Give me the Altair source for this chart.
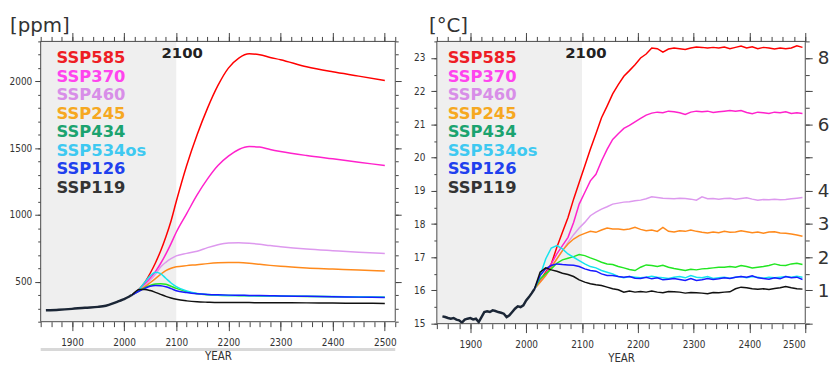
import altair as alt
import pandas as pd

# ---------------- data ----------------
SCENARIOS = ["SSP585", "SSP370", "SSP460", "SSP245", "SSP434", "SSP534os", "SSP126", "SSP119"]
LINE_COLORS = ["#ff0000", "#ff22cc", "#dd99ee", "#ff8a1c", "#22e622", "#14e4ee", "#1a1aff", "#111111"]
LABEL_COLORS = ["#ee1d25", "#ff44ee", "#d88ee8", "#f6a821", "#1ba36f", "#3ec9f1", "#2040ee", "#333333"]
HIST_COLOR = "#1b2636"

# CO2 concentration [ppm]
CO2_HIST_YEARS = [1850, 1875, 1900, 1925, 1950, 1965, 1980, 1990, 2000, 2010, 2015]
CO2_HIST = [285, 289, 296, 305, 311, 320, 339, 354, 369, 389, 400]

CO2_YEARS = [2015, 2030, 2040, 2050, 2060, 2070, 2080, 2090, 2100, 2120, 2140, 2160,
             2180, 2200, 2220, 2240, 2260, 2280, 2300, 2350, 2400, 2450, 2500]
CO2_SSP585 = [400, 449, 497, 563, 640, 730, 835, 955, 1100, 1370, 1600, 1800,
              1970, 2100, 2175, 2207, 2200, 2180, 2163, 2110, 2072, 2040, 2007]
CO2_SSP370 = [400, 445, 482, 525, 575, 636, 706, 785, 870, 1010, 1150, 1270,
              1370, 1440, 1490, 1512, 1508, 1490, 1475, 1445, 1420, 1395, 1370]
CO2_SSP460 = [400, 438, 470, 510, 555, 610, 645, 672, 693, 712, 728, 755,
              777, 790, 792, 788, 780, 770, 762, 745, 732, 720, 711]
CO2_SSP245 = [400, 435, 462, 492, 523, 555, 583, 600, 611, 620, 627, 635,
              641, 644, 643, 638, 630, 622, 615, 603, 595, 587, 580]
CO2_SSP434 = [400, 432, 455, 472, 482, 485, 480, 466, 450, 425, 410, 402,
              398, 396, 395, 394, 393, 392, 391, 389, 387, 385, 383]
CO2_SSP534OS = [400, 447, 497, 543, 571, 560, 525, 490, 463, 430, 412, 403,
                399, 397, 396, 395, 394, 393, 392, 390, 388, 386, 384]
CO2_SSP126 = [400, 432, 450, 466, 472, 470, 462, 448, 432, 418, 409, 404,
              401, 399, 398, 397, 396, 395, 393, 390, 387, 384, 381]
CO2_SSP119 = [400, 442, 441, 433, 420, 405, 390, 378, 368, 356, 349, 346,
              344, 344, 343, 343, 342, 342, 342, 341, 340, 338, 337]

# Global mean temperature [degC]
T_HIST_YEARS = list(range(1850, 2016, 5))
T_HIST = [15.22, 15.20, 15.17, 15.15, 15.17, 15.12, 15.10, 15.03, 15.12, 15.15,
          15.17, 15.13, 15.15, 15.05, 15.20, 15.35, 15.37, 15.35, 15.40, 15.38,
          15.35, 15.33, 15.30, 15.20, 15.25, 15.35, 15.45, 15.52, 15.50, 15.55,
          15.70, 15.80, 15.92, 16.05]

T_YEARS = list(range(2015, 2500, 10))
T_SSP585 = [16.05, 16.30, 16.55, 16.80, 17.30, 17.75, 18.20, 18.75, 19.25, 19.75,
            20.25, 20.72, 21.20, 21.55, 21.92, 22.20, 22.45, 22.62, 22.80, 23.00,
            23.12, 23.30, 23.28, 23.18, 23.27, 23.30, 23.28, 23.26, 23.30, 23.33,
            23.32, 23.30, 23.32, 23.30, 23.33, 23.28, 23.32, 23.36, 23.30, 23.34,
            23.28, 23.32, 23.30, 23.27, 23.30, 23.28, 23.30, 23.37, 23.32]
T_SSP370 = [16.05, 16.30, 16.50, 16.80, 17.10, 17.35, 17.60, 18.05, 18.60, 18.95,
            19.30, 19.50, 19.90, 20.25, 20.55, 20.72, 20.88, 20.97, 21.08, 21.18,
            21.28, 21.34, 21.37, 21.35, 21.40, 21.38, 21.35, 21.30, 21.37, 21.40,
            21.38, 21.40, 21.36, 21.38, 21.40, 21.42, 21.40, 21.42, 21.36, 21.32,
            21.37, 21.35, 21.33, 21.37, 21.35, 21.38, 21.33, 21.35, 21.33]
T_SSP460 = [16.05, 16.25, 16.45, 16.70, 16.95, 17.20, 17.45, 17.68, 17.88, 18.05,
            18.25, 18.36, 18.45, 18.52, 18.60, 18.63, 18.66, 18.67, 18.70, 18.72,
            18.76, 18.82, 18.80, 18.78, 18.77, 18.76, 18.78, 18.77, 18.75, 18.72,
            18.82, 18.76, 18.77, 18.75, 18.77, 18.78, 18.75, 18.77, 18.79, 18.75,
            18.72, 18.74, 18.73, 18.75, 18.73, 18.74, 18.76, 18.78, 18.80]
T_SSP245 = [16.05, 16.25, 16.45, 16.70, 16.95, 17.20, 17.40, 17.55, 17.65, 17.72,
            17.78, 17.75, 17.82, 17.88, 17.85, 17.85, 17.83, 17.85, 17.90, 17.84,
            17.80, 17.82, 17.78, 17.90, 17.78, 17.76, 17.80, 17.78, 17.82, 17.78,
            17.75, 17.73, 17.76, 17.74, 17.78, 17.75, 17.76, 17.80, 17.77, 17.74,
            17.76, 17.72, 17.76, 17.77, 17.73, 17.72, 17.70, 17.67, 17.63]
T_SSP434 = [16.05, 16.35, 16.50, 16.65, 16.82, 16.92, 16.97, 17.02, 17.08, 17.05,
            16.98, 16.92, 16.85, 16.80, 16.78, 16.72, 16.68, 16.63, 16.60, 16.70,
            16.77, 16.75, 16.72, 16.76, 16.70, 16.66, 16.63, 16.60, 16.64, 16.62,
            16.65, 16.66, 16.68, 16.70, 16.70, 16.72, 16.70, 16.75, 16.72, 16.68,
            16.70, 16.72, 16.75, 16.80, 16.76, 16.75, 16.80, 16.82, 16.78]
T_SSP534OS = [16.05, 16.45, 16.95, 17.28, 17.35, 17.25, 17.10, 17.00, 16.90, 16.80,
              16.72, 16.68, 16.60, 16.55, 16.50, 16.42, 16.38, 16.42, 16.40, 16.38,
              16.40, 16.43, 16.40, 16.38, 16.36, 16.40, 16.42, 16.38, 16.45, 16.40,
              16.38, 16.42, 16.36, 16.38, 16.40, 16.37, 16.40, 16.42, 16.38, 16.42,
              16.40, 16.37, 16.40, 16.38, 16.40, 16.42, 16.40, 16.43, 16.40]
T_SSP126 = [16.05, 16.45, 16.65, 16.75, 16.80, 16.78, 16.77, 16.76, 16.72, 16.65,
            16.60, 16.58, 16.50, 16.45, 16.45, 16.42, 16.40, 16.42, 16.37, 16.36,
            16.40, 16.35, 16.38, 16.32, 16.34, 16.36, 16.33, 16.30, 16.36, 16.30,
            16.32, 16.36, 16.33, 16.35, 16.38, 16.36, 16.40, 16.42, 16.40, 16.44,
            16.38, 16.36, 16.34, 16.38, 16.35, 16.42, 16.38, 16.40, 16.33]
T_SSP119 = [16.05, 16.55, 16.68, 16.62, 16.58, 16.52, 16.48, 16.42, 16.32, 16.25,
            16.20, 16.17, 16.15, 16.10, 16.05, 16.02, 15.95, 15.98, 15.95, 15.97,
            15.95, 15.98, 15.95, 15.93, 15.97, 15.96, 15.95, 15.92, 15.94, 15.93,
            15.92, 15.90, 15.94, 15.93, 15.95, 15.96, 16.05, 16.10, 16.08, 16.05,
            16.04, 16.05, 16.03, 16.06, 16.08, 16.12, 16.08, 16.05, 16.04]

# axis ticks
X_MAJOR = [1900, 2000, 2100, 2200, 2300, 2400, 2500]
CO2_MAJOR = [500, 1000, 1500, 2000]
T_MAJOR = [15, 16, 17, 18, 19, 20, 21, 22, 23]
ANOM_TICKS = [0, 1, 2, 3, 4, 5, 6, 7, 8]

# ---------------- tables ----------------
co2_series = [CO2_SSP585, CO2_SSP370, CO2_SSP460, CO2_SSP245,
              CO2_SSP434, CO2_SSP534OS, CO2_SSP126, CO2_SSP119]
t_series = [T_SSP585, T_SSP370, T_SSP460, T_SSP245,
            T_SSP434, T_SSP534OS, T_SSP126, T_SSP119]

co2_df = pd.DataFrame([
    {"scen": s, "year": y, "val": v}
    for s, vals in zip(SCENARIOS, co2_series) for y, v in zip(CO2_YEARS, vals)
])
co2_hist_df = pd.DataFrame({"year": CO2_HIST_YEARS, "val": CO2_HIST})
t_df = pd.DataFrame([
    {"scen": s, "year": y, "val": v}
    for s, vals in zip(SCENARIOS, t_series) for y, v in zip(T_YEARS, vals)
])
t_hist_df = pd.DataFrame({"year": T_HIST_YEARS, "val": T_HIST})
leg_df = pd.DataFrame({"name": SCENARIOS, "idx": list(range(len(SCENARIOS)))})

COND = "Liberation Sans Narrow, DejaVu Sans Condensed, sans-serif"

# ---------------- geometry (pixels inside the plotting frame) ----------------
TOTAL_W = 772          # from left edge of left panel to right edge of right panel
TOTAL_H = 285
L_X0, L_X1, L_H = 0, 358, 283
R_X0, R_X1, R_H = 400, 772, 285


def frange(a, b, step):
    out = []
    v = a
    while v <= b + 1e-9:
        out.append(round(v, 3))
        v += step
    return out


def sc(domain, rng):
    return alt.Scale(domain=list(domain), range=list(rng), nice=False, zero=False)


def axis_layer(channel, scale, domain, orient, values, tick_size, labels=False, **kw):
    df = pd.DataFrame({"v": list(domain)})
    title = kw.pop("title", None)
    ax = alt.Axis(orient=orient, values=values, tickSize=tick_size, labels=labels,
                  domain=False, grid=False, title=title, **kw)
    enc = alt.X("v:Q", scale=scale, axis=ax) if channel == "x" else alt.Y("v:Q", scale=scale, axis=ax)
    return alt.Chart(df).mark_point(opacity=0).encode(**{channel: enc})


def panel_layers(xdom, ydom, x0, x1, H, scen_df, hist_df, ymajor, yminor_step,
                 ylab_pad, smooth, leg_x, text_dx, left_offset, bottom_offset):
    xs = sc(xdom, [x0, x1])
    ys = sc(ydom, [H, 0])

    bg = alt.Chart(pd.DataFrame({"x": [xdom[0]], "x2": [2100]})).mark_rect(
        color="#efefef").encode(
        x=alt.X("x:Q", scale=xs, axis=None), x2="x2:Q",
        y=alt.value(0), y2=alt.value(H))

    frame = alt.Chart(pd.DataFrame({"x": [xdom[0]], "x2": [xdom[1]]})).mark_rect(
        fillOpacity=0, stroke="#4a4a4a", strokeWidth=1).encode(
        x=alt.X("x:Q", scale=xs, axis=None), x2="x2:Q",
        y=alt.value(0), y2=alt.value(H))

    interp = {"interpolate": "monotone"} if smooth else {}
    hist = alt.Chart(hist_df).mark_line(color=HIST_COLOR, strokeWidth=2.5, **interp).encode(
        x=alt.X("year:Q", scale=xs, axis=None),
        y=alt.Y("val:Q", scale=ys, axis=None))
    lines = alt.Chart(scen_df).mark_line(strokeWidth=1.5, **interp).encode(
        x=alt.X("year:Q", scale=xs, axis=None),
        y=alt.Y("val:Q", scale=ys, axis=None),
        color=alt.Color("scen:N", scale=alt.Scale(domain=SCENARIOS, range=LINE_COLORS), legend=None))

    t2100 = alt.Chart(pd.DataFrame({"x": [2100], "t": ["2100"]})).mark_text(
        font="DejaVu Sans", fontWeight="bold", fontSize=15, color="#222222",
        baseline="middle", dx=text_dx).encode(
        x=alt.X("x:Q", scale=xs, axis=None), y=alt.value(12), text="t:N")

    legend = alt.Chart(leg_df).mark_text(
        align="left", baseline="middle", font="DejaVu Sans", fontWeight="bold",
        fontSize=16.5).encode(
        x=alt.value(leg_x),
        y=alt.Y("idx:Q", scale=sc([0, 7], [17, 148]), axis=None),
        text="name:N",
        color=alt.Color("name:N", scale=alt.Scale(domain=SCENARIOS, range=LABEL_COLORS), legend=None))

    x_minor = list(range(int(xdom[0]), int(xdom[1]) + 1, 20))
    y_minor = frange(ydom[0], ydom[1], yminor_step)
    axes = [
        axis_layer("x", xs, xdom, "bottom", X_MAJOR, 9, labels=True, labelPadding=7,
                   format="d", title="YEAR", titlePadding=3, offset=bottom_offset),
        axis_layer("x", xs, xdom, "bottom", x_minor, 5, offset=bottom_offset),
        axis_layer("x", xs, xdom, "top", X_MAJOR, 9),
        axis_layer("x", xs, xdom, "top", x_minor, 5),
        axis_layer("y", ys, ydom, "left", ymajor, 6, labels=True, labelPadding=ylab_pad,
                   format="d", offset=left_offset),
        axis_layer("y", ys, ydom, "left", y_minor, 3, offset=left_offset),
    ]
    return [bg, lines, hist, frame, t2100, legend] + axes, ys


CO2_DOM = (200, 2300)
T_DOM = (15, 23.5)
ANOM_DOM = (0, 8.5)

left_layers, left_ys = panel_layers(
    (1840, 2520), CO2_DOM, L_X0, L_X1, L_H, co2_df, co2_hist_df, CO2_MAJOR, 100, 3,
    True, 16, 6, 0, L_H - TOTAL_H)
left_layers += [
    axis_layer("y", left_ys, CO2_DOM, "right", CO2_MAJOR, 6, offset=L_X1 - TOTAL_W),
    axis_layer("y", left_ys, CO2_DOM, "right", frange(200, 2300, 100), 3, offset=L_X1 - TOTAL_W),
    alt.Chart(pd.DataFrame({"a": [0]})).mark_rule(color="#d8d8d8", strokeWidth=3).encode(
        x=alt.value(L_X0), x2=alt.value(L_X1), y=alt.value(L_H + 28)),
    alt.Chart(pd.DataFrame({"t": ["[ppm]"]})).mark_text(
        align="left", baseline="alphabetic", font="DejaVu Sans", fontSize=20,
        color="#333333").encode(x=alt.value(-31), y=alt.value(-9), text="t:N"),
]

right_layers, _ = panel_layers(
    (1840, 2500), T_DOM, R_X0, R_X1, R_H, t_df, t_hist_df, T_MAJOR, 0.5, 6,
    False, R_X0 + 11, 4, -R_X0, 0)
anom_s = sc(ANOM_DOM, [R_H, 0])
right_layers += [
    axis_layer("y", anom_s, ANOM_DOM, "right", ANOM_TICKS, 7, labels=True, labelPadding=5,
               labelFont="DejaVu Sans", labelFontSize=18.5,
               labelExpr="datum.value == 0 || datum.value == 5 || datum.value == 7 ? '' : datum.label"),
    axis_layer("y", anom_s, ANOM_DOM, "right", frange(0, 8.5, 0.5), 4),
    alt.Chart(pd.DataFrame({"t": ["[°C]"]})).mark_text(
        align="left", baseline="alphabetic", font="DejaVu Sans", fontSize=20,
        color="#333333").encode(x=alt.value(R_X0 - 8), y=alt.value(-9), text="t:N"),
]

chart = alt.layer(*(left_layers + right_layers)).resolve_scale(
    x="independent", y="independent", color="independent"
).properties(
    width=TOTAL_W, height=TOTAL_H,
    autosize=alt.AutoSizeParams(type="none"),
    padding={"left": 33, "top": 32, "right": 27, "bottom": 40},
).configure_view(
    strokeWidth=0
).configure_axis(
    labelFont=COND, labelFontSize=10, labelColor="#333333",
    tickColor="#444444", tickWidth=1,
    titleFont=COND, titleFontSize=11.5, titleFontWeight="normal", titleColor="#333333"
)

chart.save("out.html", embed_options={"renderer": "svg", "actions": False})
